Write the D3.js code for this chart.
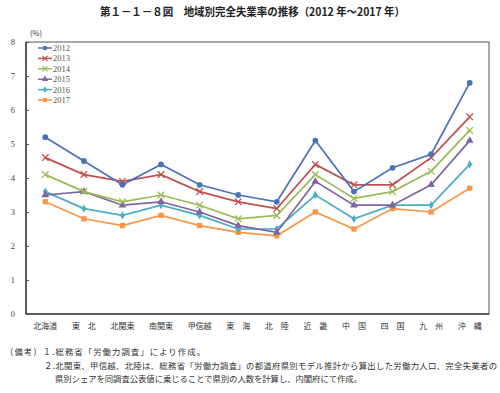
<!DOCTYPE html>
<html>
<head>
<meta charset="utf-8">
<script src="https://cdn.jsdelivr.net/npm/d3@7"></script>
<style>
  html, body { margin: 0; padding: 0; background: #fff; }
  svg { display: block; }
</style>
</head>
<body>
<div id="chart"></div>
<script>
(function () {
  "use strict";
  var FONT = "'Noto Sans CJK JP', 'Noto Sans', sans-serif";

  // categories (regions) and one row per year
  var regions = ["北海道", "東　北", "北関東", "南関東", "甲信越", "東　海", "北　陸", "近　畿", "中　国", "四　国", "九　州", "沖　縄"];
  var years = ["2012", "2013", "2014", "2015", "2016", "2017"];
  var v2012 = [5.2, 4.5, 3.8, 4.4, 3.8, 3.5, 3.3, 5.1, 3.6, 4.3, 4.7, 6.8];
  var v2013 = [4.6, 4.1, 3.9, 4.1, 3.6, 3.3, 3.1, 4.4, 3.8, 3.8, 4.6, 5.8];
  var v2014 = [4.1, 3.6, 3.3, 3.5, 3.2, 2.8, 2.9, 4.1, 3.4, 3.6, 4.2, 5.4];
  var v2015 = [3.5, 3.6, 3.2, 3.3, 3.0, 2.6, 2.4, 3.9, 3.2, 3.2, 3.8, 5.1];
  var v2016 = [3.6, 3.1, 2.9, 3.2, 2.9, 2.5, 2.5, 3.5, 2.8, 3.2, 3.2, 4.4];
  var v2017 = [3.3, 2.8, 2.6, 2.9, 2.6, 2.4, 2.3, 3.0, 2.5, 3.1, 3.0, 3.7];
  var yTicks = [0, 1, 2, 3, 4, 5, 6, 7, 8];
  var notes = [
    "（備考）１.総務省「労働力調査」により作成。",
    "２.北関東、甲信越、北陸は、総務省「労働力調査」の都道府県別モデル推計から算出した労働力人口、完全失業者の",
    "県別シェアを同調査公表値に乗じることで県別の人数を計算し、内閣府にて作成。"
  ];

  var values = [v2012, v2013, v2014, v2015, v2016, v2017];
  var colors = ["#4a72b8", "#c0504d", "#9bbb59", "#8064a2", "#4bacc6", "#f79646"];
  var shapes = ["circle", "star", "cross", "triangle", "diamond", "square"];

  var W = 500, H = 393;
  var L = 26, R = 489, T = 42, B = 314;

  var x = d3.scaleBand().domain(regions).range([L, R]);
  var y = d3.scaleLinear().domain([0, 8]).range([B, T]);

  var svg = d3.select("#chart").append("svg").attr("width", W).attr("height", H)
    .attr("font-family", FONT);

  // title
  svg.append("text").attr("x", 100).attr("y", 16)
    .attr("font-size", 11).attr("font-weight", "bold").attr("fill", "#222")
    .attr("textLength", 305).attr("lengthAdjust", "spacingAndGlyphs")
    .text("第１－１－８図　地域別完全失業率の推移（2012 年～2017 年）");
  svg.append("text").attr("x", 30).attr("y", 36).attr("font-size", 7.5).attr("fill", "#333").text("(%)");

  // frame
  svg.append("rect").attr("x", L).attr("y", T).attr("width", R - L).attr("height", B - T)
    .attr("fill", "none").attr("stroke", "#555").attr("stroke-width", 1);
  svg.append("line").attr("x1", L).attr("x2", L).attr("y1", T).attr("y2", B).attr("stroke", "#444").attr("stroke-width", 1.6);
  svg.append("line").attr("x1", L).attr("x2", R).attr("y1", B).attr("y2", B).attr("stroke", "#444").attr("stroke-width", 1.6);

  // y axis
  var ya = svg.append("g").attr("transform", "translate(" + L + ",0)")
    .call(d3.axisLeft(y).tickValues(yTicks).tickSize(-3).tickPadding(11).tickFormat(d3.format("d")));
  ya.select(".domain").remove();
  ya.selectAll("line").attr("stroke", "#555");
  ya.selectAll("text").attr("font-size", 8.5).attr("fill", "#444").attr("font-family", "'Liberation Serif', serif");

  // x axis labels
  var xa = svg.append("g").attr("transform", "translate(0," + B + ")")
    .call(d3.axisBottom(x).tickSize(0).tickPadding(9));
  xa.select(".domain").remove();
  xa.selectAll("text").attr("font-size", 8).attr("fill", "#333").attr("font-family", FONT);

  var sym = {
    circle: d3.symbol().type(d3.symbolCircle).size(26),
    triangle: d3.symbol().type(d3.symbolTriangle).size(26),
    diamond: d3.symbol().type(d3.symbolDiamond).size(20),
    square: d3.symbol().type(d3.symbolSquare).size(28),
    cross: d3.symbol().type(d3.symbolTimes).size(30),
    star: d3.symbol().type(d3.symbolTimes).size(30)
  };
  function marker(g, shape, color) {
    var p = g.append("path").attr("d", sym[shape]());
    if (shape === "cross" || shape === "star") {
      p.attr("fill", "none").attr("stroke", color).attr("stroke-width", 1.3);
    } else {
      p.attr("fill", color);
    }
    return p;
  }

  var line = d3.line().x(function (d, i) { return x(regions[i]) + x.bandwidth() / 2; }).y(function (d) { return y(d); });

  // draw from 2017 up so 2012 is on top
  for (var s = values.length - 1; s >= 0; s--) {
    var c = colors[s];
    svg.append("path").attr("d", line(values[s])).attr("fill", "none")
      .attr("stroke", c).attr("stroke-width", 1.7);
    values[s].forEach(function (v, i) {
      var g = svg.append("g").attr("transform", "translate(" + (x(regions[i]) + x.bandwidth() / 2) + "," + y(v) + ")");
      marker(g, shapes[s], c);
    });
  }

  // legend
  years.forEach(function (yr, i) {
    var ly = 48 + i * 10.4;
    svg.append("line").attr("x1", 38).attr("x2", 52).attr("y1", ly).attr("y2", ly)
      .attr("stroke", colors[i]).attr("stroke-width", 1.5);
    var g = svg.append("g").attr("transform", "translate(45," + ly + ")");
    marker(g, shapes[i], colors[i]).attr("transform", "scale(0.8)");
    svg.append("text").attr("x", 53).attr("y", ly + 3).attr("font-size", 8.5)
      .attr("font-family", "'Liberation Serif', serif").attr("fill", "#555").text(yr);
  });

  // notes
  var nx = [5, 44, 55], ny = [355, 369, 382], nw = [200, 453, 307];
  notes.forEach(function (t, i) {
    svg.append("text").attr("x", nx[i]).attr("y", ny[i]).attr("font-size", 8.4)
      .attr("textLength", nw[i]).attr("lengthAdjust", "spacing")
      .attr("fill", "#333").text(t);
  });
})();
</script>
</body>
</html>
